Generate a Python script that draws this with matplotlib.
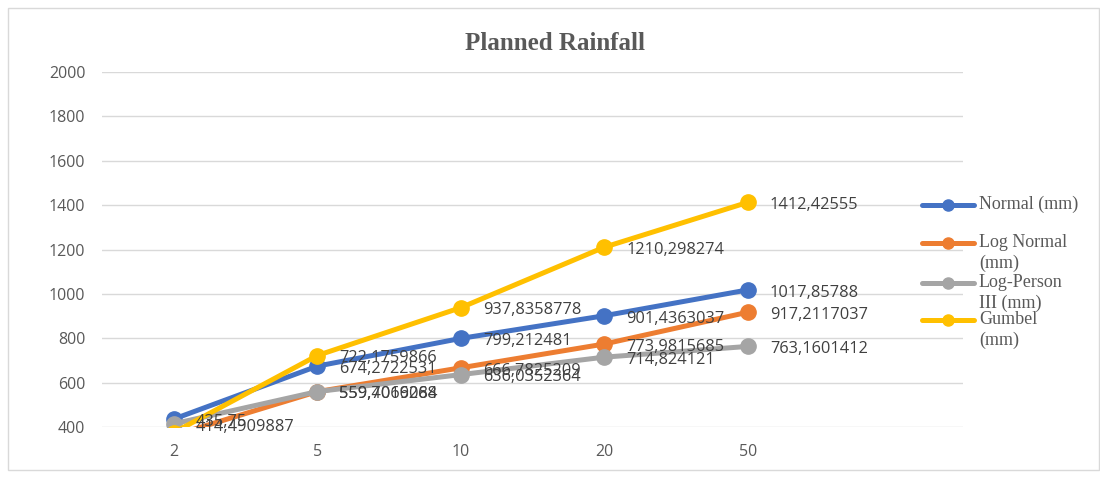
import matplotlib
matplotlib.use("Agg")
import matplotlib.pyplot as plt
from matplotlib.patches import Rectangle
from matplotlib.lines import Line2D

categories = ["2", "5", "10", "20", "50"]
normal = [435.75, 674.2722531, 799.212481, 901.4363037, 1017.85788]
log_normal = [362.0, 559.4069084, 666.7825209, 773.9815685, 917.2117037]
log_pearson = [414.4909887, 559.7016268, 636.0352364, 714.824121, 763.1601412]
gumbel = [375.0, 722.1759866, 937.8358778, 1210.298274, 1412.42555]

series_names = ["Normal (mm)", "Log Normal\n(mm)", "Log-Person\nIII (mm)", "Gumbel\n(mm)"]
series_values = [normal, log_normal, log_pearson, gumbel]
colors = ["#4472C4", "#ED7D31", "#A5A5A5", "#FFC000"]

W, H = 1100, 478
fig = plt.figure(figsize=(W / 100, H / 100), dpi=100)
fig.patch.set_facecolor("white")
fig.add_artist(Rectangle((8 / W, 8 / H), (W - 9) / W, (H - 16) / H, transform=fig.transFigure,
                         fill=False, edgecolor="#D9D9D9", linewidth=1))

ax = fig.add_axes([102 / W, 1 - 427 / H, (963 - 102) / W, (427 - 72) / H])
ax.set_xlim(-0.5, 5.5)
ax.set_ylim(400, 2000)
ax.set_yticks(range(400, 2001, 200))
ax.set_xticks(range(len(categories)))
ax.set_xticklabels(categories)
ax.grid(axis="y", color="#D9D9D9", linewidth=1)
ax.set_axisbelow(True)
for s in ax.spines.values():
    s.set_visible(False)
ax.tick_params(axis="both", length=0, labelsize=11.5, colors="#595959")
ax.tick_params(axis="y", pad=12)
ax.tick_params(axis="x", pad=12)
for lbl in ax.get_xticklabels() + ax.get_yticklabels():
    lbl.set_fontfamily("Open Sans")

x = list(range(len(categories)))
for name, vals, c in zip(series_names, series_values, colors):
    ax.plot(x, vals, color=c, linewidth=3.6, marker="o", markersize=11,
            solid_capstyle="round", label=name)

for vals in series_values:
    for xi, v in zip(x, vals):
        if v < 400:
            continue
        txt = ("%.10g" % v).replace(".", ",")
        ax.annotate(txt, (xi, v), xytext=(16, -2), textcoords="offset points",
                    ha="left", va="center", fontsize=11.8, color="#404040",
                    family="Open Sans", annotation_clip=False)

fig.text(555 / W, 1 - 43 / H, "Planned Rainfall", ha="center", va="center",
         fontsize=18, fontweight="bold", color="#595959", family="Liberation Serif")

# legend drawn manually so that each marker aligns with the first line of its label
leg_y = [205, 243, 283, 320]
for name, c, yy in zip(series_names, colors, leg_y):
    yf = 1 - yy / H
    fig.add_artist(Line2D([922 / W, 974 / W], [yf, yf], transform=fig.transFigure,
                          color=c, linewidth=3.6, solid_capstyle="round"))
    fig.add_artist(Line2D([948 / W], [yf], transform=fig.transFigure, color=c,
                          marker="o", markersize=8, linestyle="none"))
    fig.text(979 / W, yf + 9 / H, name, ha="left", va="top", fontsize=13,
             family="Liberation Serif", color="#595959", linespacing=1.25)

fig.savefig("out.png", dpi=100)
